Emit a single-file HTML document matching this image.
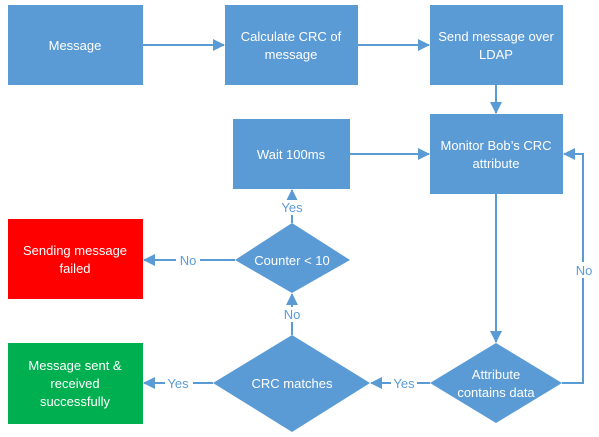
<!DOCTYPE html>
<html><head><meta charset="utf-8"><style>
html,body{margin:0;padding:0;background:#fff;}
svg{display:block;}
text{font-family:"Liberation Sans",sans-serif;font-size:13px;}
.w{fill:#fff;text-anchor:middle;}
.l{fill:#5b9bd5;text-anchor:middle;}
</style></head><body>
<svg width="599" height="437" viewBox="0 0 599 437">
<defs>
<marker id="a" markerWidth="12" markerHeight="12" refX="11" refY="6" orient="auto" markerUnits="userSpaceOnUse">
<path d="M0,0 L12,6 L0,12 z" fill="#5b9bd5"/></marker>
</defs>
<g fill="#5b9bd5">
<rect x="8" y="5" width="135" height="80"/>
<rect x="225" y="5" width="133" height="80"/>
<rect x="430" y="5" width="133" height="80"/>
<rect x="430" y="114" width="133" height="80"/>
<rect x="233" y="119" width="117" height="70"/>
<polygon points="292,223 350,260 292,293 235,260"/>
<polygon points="292,335 370,383 292,432 213,383"/>
<polygon points="496,343 562,383 496,423 430,383"/>
</g>
<rect x="8" y="219" width="135" height="80" fill="#fe0000"/>
<rect x="8" y="343" width="135" height="81" fill="#00b050"/>
<g stroke="#5b9bd5" stroke-width="2" fill="none">
<line x1="143" y1="45" x2="224" y2="45" marker-end="url(#a)"/>
<line x1="358" y1="45" x2="429" y2="45" marker-end="url(#a)"/>
<line x1="496" y1="85" x2="496" y2="113" marker-end="url(#a)"/>
<line x1="350" y1="154" x2="429" y2="154" marker-end="url(#a)"/>
<line x1="496" y1="194" x2="496" y2="342" marker-end="url(#a)"/>
<polyline points="562,383 583,383 583,154 564,154" marker-end="url(#a)"/>
<line x1="430" y1="383" x2="371" y2="383" marker-end="url(#a)"/>
<line x1="213" y1="383" x2="144" y2="383" marker-end="url(#a)"/>
<line x1="292" y1="335" x2="292" y2="294" marker-end="url(#a)"/>
<line x1="235" y1="260" x2="144" y2="260" marker-end="url(#a)"/>
<line x1="292" y1="223" x2="292" y2="190" marker-end="url(#a)"/>
</g>
<g fill="#fff">
<rect x="571" y="262" width="24" height="16"/>
<rect x="391" y="376" width="26" height="15"/>
<rect x="165" y="376" width="28" height="15"/>
<rect x="279" y="307" width="26" height="15"/>
<rect x="176" y="253" width="24" height="15"/>
<rect x="278" y="200" width="28" height="15"/>
</g>
<text class="w" x="75" y="50">Message</text>
<text class="w" x="291" y="41">Calculate CRC of</text>
<text class="w" x="291" y="59">message</text>
<text class="w" x="496" y="41">Send message over</text>
<text class="w" x="496" y="59">LDAP</text>
<text class="w" x="496" y="150">Monitor Bob’s CRC</text>
<text class="w" x="496" y="168">attribute</text>
<text class="w" x="291" y="159">Wait 100ms</text>
<text class="w" x="292" y="265">Counter &lt; 10</text>
<text class="w" x="292" y="388">CRC matches</text>
<text class="w" x="496" y="379">Attribute</text>
<text class="w" x="496" y="397">contains data</text>
<text class="w" x="75" y="255">Sending message</text>
<text class="w" x="75" y="273">failed</text>
<text class="w" x="75" y="370">Message sent &amp;</text>
<text class="w" x="75" y="388">received</text>
<text class="w" x="75" y="406">successfully</text>
<text class="l" x="584" y="275">No</text>
<text class="l" x="404" y="388">Yes</text>
<text class="l" x="178" y="388">Yes</text>
<text class="l" x="292" y="319">No</text>
<text class="l" x="188" y="265">No</text>
<text class="l" x="292" y="212">Yes</text>
</svg>
</body></html>
